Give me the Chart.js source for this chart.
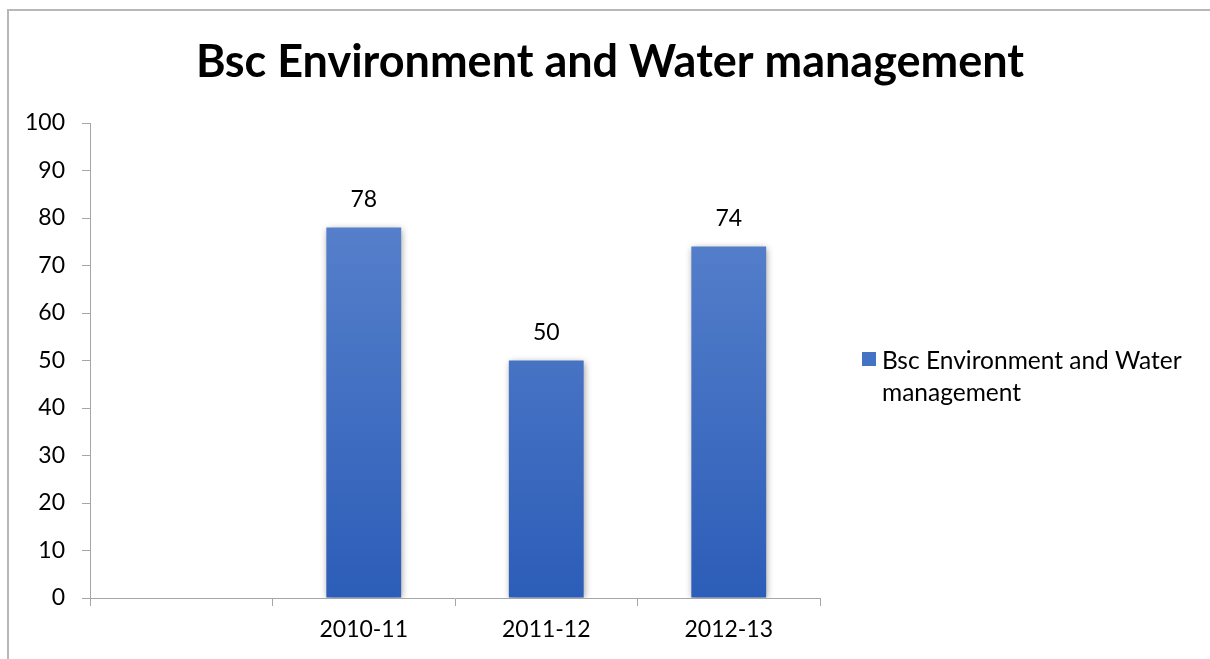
<!DOCTYPE html>
<html>
<head>
<meta charset="utf-8">
<script src="https://cdn.jsdelivr.net/npm/chart.js@4.4.1/dist/chart.umd.min.js"></script>
<style>
  html, body { margin: 0; padding: 0; background: #fff; }
  #wrap { width: 1210px; height: 659px; position: relative; }
</style>
</head>
<body>
<div id="wrap"><canvas id="chart" width="1210" height="659"></canvas></div>
<script>
// Chart data
const chartTitle = 'Bsc Environment and Water management';
const categories = ['', '2010-11', '2011-12', '2012-13'];
const seriesName = 'Bsc Environment and Water management';
const seriesValues = [null, 78, 50, 74];
const yTicks = [0, 10, 20, 30, 40, 50, 60, 70, 80, 90, 100];
const legendLines = ['Bsc Environment and Water', 'management'];

const FONT = 'Lato, "Open Sans", sans-serif';

function barGradient(context) {
    const chart = context.chart;
    const area = chart.chartArea;
    if (!area) return '#4a73c4';
    const y0 = chart.scales.y.getPixelForValue(0);
    const g = chart.ctx.createLinearGradient(0, area.top, 0, y0);
    g.addColorStop(0, '#6189d0');
    g.addColorStop(1, '#2c5db8');
    return g;
}

// outer border of the chart box + title centred on the whole box
const frameAndTitle = {
    id: 'frameAndTitle',
    beforeDraw(chart) {
        const ctx = chart.ctx;
        ctx.save();
        ctx.strokeStyle = '#b8b8b8';
        ctx.lineWidth = 2;
        ctx.beginPath();
        ctx.moveTo(8, 670);
        ctx.lineTo(8, 10);
        ctx.lineTo(1220, 10);
        ctx.stroke();

        ctx.font = 'bold 45px ' + FONT;
        ctx.fillStyle = '#000';
        ctx.textAlign = 'center';
        ctx.textBaseline = 'middle';
        ctx.fillText(chartTitle, 610, 62);
        ctx.restore();
    }
};

// soft shadow behind bars
const shadowPlugin = {
    id: 'barShadow',
    beforeDatasetDraw(chart) {
        const ctx = chart.ctx;
        ctx.save();
        ctx.shadowColor = 'rgba(0,0,0,0.4)';
        ctx.shadowBlur = 7;
        ctx.shadowOffsetX = 1;
        ctx.shadowOffsetY = 1;
    },
    afterDatasetDraw(chart) {
        chart.ctx.restore();
    }
};

// value labels above bars
const valueLabels = {
    id: 'valueLabels',
    afterDatasetsDraw(chart) {
        const ctx = chart.ctx;
        const meta = chart.getDatasetMeta(0);
        ctx.save();
        ctx.font = '23px ' + FONT;
        ctx.fillStyle = '#000';
        ctx.textAlign = 'center';
        ctx.textBaseline = 'middle';
        meta.data.forEach((bar, i) => {
            const v = seriesValues[i];
            if (v == null) return;
            ctx.fillText(String(v), bar.x, bar.y - 28);
        });
        ctx.restore();
    }
};

// legend on the right, wrapped over two lines
const sideLegend = {
    id: 'sideLegend',
    afterDraw(chart) {
        const ctx = chart.ctx;
        ctx.save();
        ctx.fillStyle = '#4472c4';
        ctx.fillRect(862, 352, 14, 14);
        ctx.font = '24.5px ' + FONT;
        ctx.fillStyle = '#000';
        ctx.textBaseline = 'middle';
        ctx.textAlign = 'left';
        legendLines.forEach((line, i) => ctx.fillText(line, 882, 361 + i * 32));
        ctx.restore();
    }
};

new Chart(document.getElementById('chart'), {
    type: 'bar',
    data: {
        labels: categories,
        datasets: [{
            label: seriesName,
            data: seriesValues,
            backgroundColor: barGradient,
            borderWidth: 0,
            categoryPercentage: 1,
            barPercentage: 0.41
        }]
    },
    options: {
        responsive: false,
        animation: false,
        layout: {
            padding: { left: 0, right: 390, top: 123, bottom: 0 }
        },
        plugins: {
            legend: { display: false },
            tooltip: { enabled: false },
            title: { display: false }
        },
        scales: {
            x: {
                offset: true,
                grid: {
                    display: true,
                    offset: true,
                    drawOnChartArea: false,
                    drawTicks: true,
                    tickLength: 8,
                    color: '#a6a6a6'
                },
                border: { color: '#a6a6a6', width: 1 },
                ticks: {
                    color: '#000',
                    padding: 10,
                    font: { family: FONT, size: 23 }
                },
                afterFit(scale) { scale.height = 61; }
            },
            y: {
                min: 0,
                max: 100,
                afterBuildTicks(scale) {
                    scale.ticks = yTicks.map(v => ({ value: v }));
                },
                grid: {
                    display: true,
                    drawOnChartArea: false,
                    drawTicks: true,
                    tickLength: 8,
                    color: '#a6a6a6'
                },
                border: { color: '#a6a6a6', width: 1 },
                ticks: {
                    color: '#000',
                    padding: 17,
                    font: { family: FONT, size: 23 }
                },
                afterFit(scale) { scale.width = 90; }
            }
        }
    },
    plugins: [frameAndTitle, shadowPlugin, valueLabels, sideLegend]
});
</script>
</body>
</html>
